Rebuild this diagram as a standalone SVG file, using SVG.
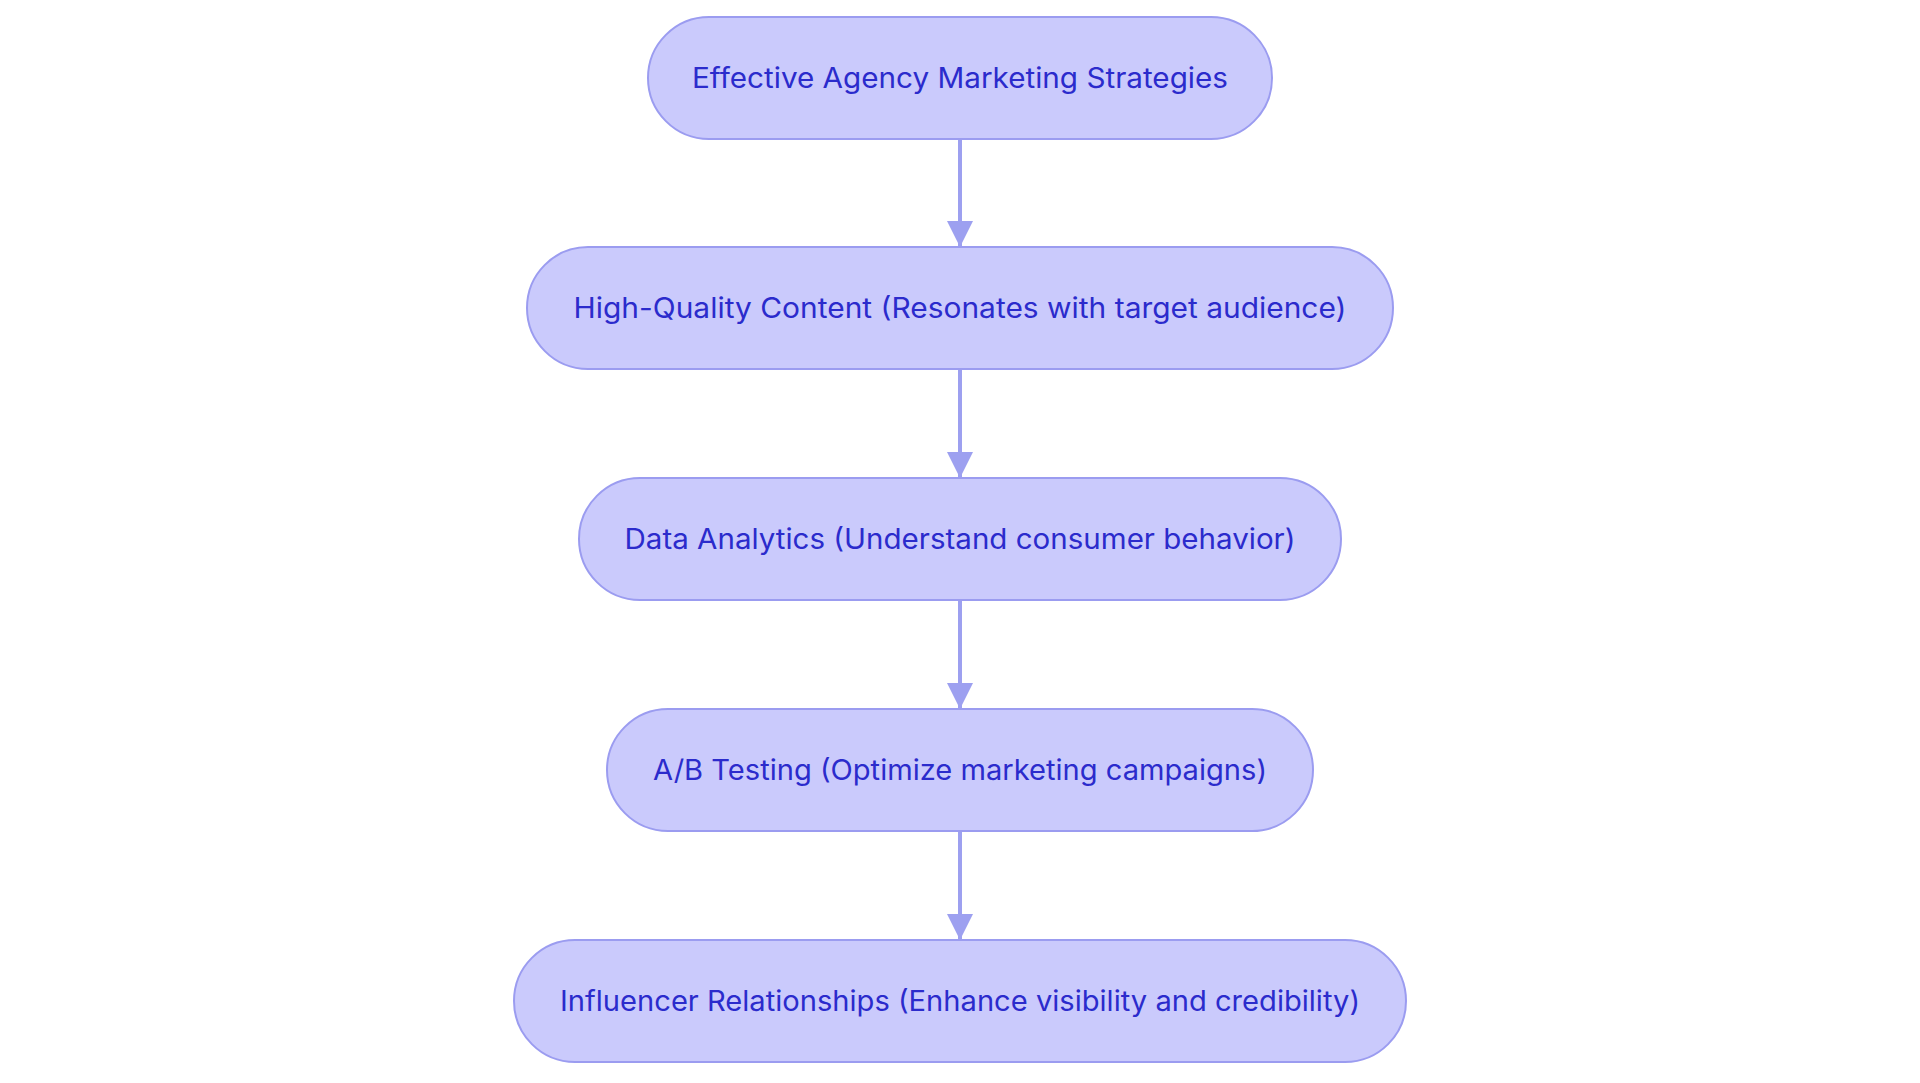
<svg xmlns="http://www.w3.org/2000/svg" width="1920" height="1083" viewBox="0 0 1920 1083">
<defs>
<style>
.node rect{fill:#CACAFC;stroke:#9B9CF0;stroke-width:2}
.node text{font-family:Inter,"Noto Sans","Liberation Sans",sans-serif;font-size:28px;fill:#2B2BCC;text-anchor:middle;dominant-baseline:central}
.edge{stroke:#9DA0F0;stroke-width:4;fill:none}
</style>
<marker id="arrow" viewBox="0 0 26 26" refX="26" refY="13" markerWidth="26" markerHeight="26" markerUnits="userSpaceOnUse" orient="auto">
<path d="M0,0 L26,13 L0,26 Z" fill="#9DA0F0"/>
</marker>
</defs>
<rect width="1920" height="1083" fill="#FFFFFF"/>
<g id="connectors">
<line class="edge" x1="960" y1="139" x2="960" y2="247" marker-end="url(#arrow)"/>
<line class="edge" x1="960" y1="369" x2="960" y2="478" marker-end="url(#arrow)"/>
<line class="edge" x1="960" y1="600" x2="960" y2="709" marker-end="url(#arrow)"/>
<line class="edge" x1="960" y1="831" x2="960" y2="940" marker-end="url(#arrow)"/>
</g>
<g id="node1" class="node">
<rect x="648" y="17" width="624" height="122" rx="61" ry="61"/>
<text x="960" y="78" textLength="536" lengthAdjust="spacingAndGlyphs">Effective Agency Marketing Strategies</text>
</g>
<g id="node2" class="node">
<rect x="527" y="247" width="866" height="122" rx="61" ry="61"/>
<text x="960" y="308" textLength="773" lengthAdjust="spacingAndGlyphs">High-Quality Content (Resonates with target audience)</text>
</g>
<g id="node3" class="node">
<rect x="579" y="478" width="762" height="122" rx="61" ry="61"/>
<text x="960" y="539" textLength="671" lengthAdjust="spacingAndGlyphs">Data Analytics (Understand consumer behavior)</text>
</g>
<g id="node4" class="node">
<rect x="607" y="709" width="706" height="122" rx="61" ry="61"/>
<text x="960" y="770" textLength="614" lengthAdjust="spacingAndGlyphs">A/B Testing (Optimize marketing campaigns)</text>
</g>
<g id="node5" class="node">
<rect x="514" y="940" width="892" height="122" rx="61" ry="61"/>
<text x="960" y="1001" textLength="800" lengthAdjust="spacingAndGlyphs">Influencer Relationships (Enhance visibility and credibility)</text>
</g>
</svg>
